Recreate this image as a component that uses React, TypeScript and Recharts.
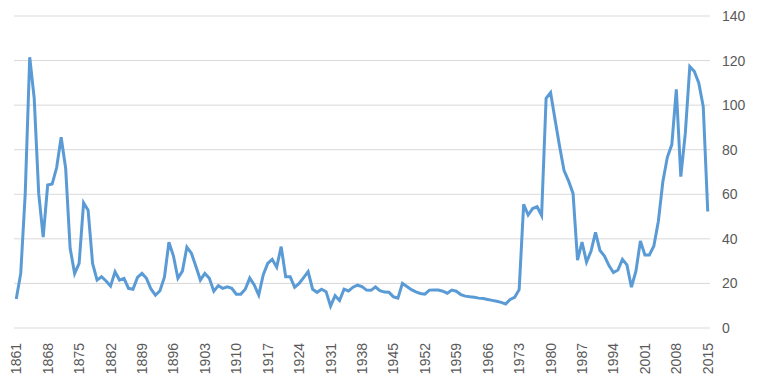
import React from "react";
import { LineChart, Line, XAxis, YAxis, CartesianGrid } from "recharts";

const years: number[] = [
  1861, 1862, 1863, 1864, 1865, 1866, 1867, 1868, 1869, 1870,
  1871, 1872, 1873, 1874, 1875, 1876, 1877, 1878, 1879, 1880,
  1881, 1882, 1883, 1884, 1885, 1886, 1887, 1888, 1889, 1890,
  1891, 1892, 1893, 1894, 1895, 1896, 1897, 1898, 1899, 1900,
  1901, 1902, 1903, 1904, 1905, 1906, 1907, 1908, 1909, 1910,
  1911, 1912, 1913, 1914, 1915, 1916, 1917, 1918, 1919, 1920,
  1921, 1922, 1923, 1924, 1925, 1926, 1927, 1928, 1929, 1930,
  1931, 1932, 1933, 1934, 1935, 1936, 1937, 1938, 1939, 1940,
  1941, 1942, 1943, 1944, 1945, 1946, 1947, 1948, 1949, 1950,
  1951, 1952, 1953, 1954, 1955, 1956, 1957, 1958, 1959, 1960,
  1961, 1962, 1963, 1964, 1965, 1966, 1967, 1968, 1969, 1970,
  1971, 1972, 1973, 1974, 1975, 1976, 1977, 1978, 1979, 1980,
  1981, 1982, 1983, 1984, 1985, 1986, 1987, 1988, 1989, 1990,
  1991, 1992, 1993, 1994, 1995, 1996, 1997, 1998, 1999, 2000,
  2001, 2002, 2003, 2004, 2005, 2006, 2007, 2008, 2009, 2010,
  2011, 2012, 2013, 2014, 2015,
];

const prices: number[] = [
  13.0, 24.5, 60.3, 121.5, 103.0, 60.4, 40.8, 64.2, 64.6, 72.0,
  85.6, 71.7, 35.8, 24.4, 29.0, 56.2, 52.9, 29.0, 21.5, 23.0,
  21.1, 18.8, 25.2, 21.5, 22.3, 17.8, 17.4, 22.7, 24.5, 22.3,
  17.5, 14.7, 16.7, 22.8, 38.5, 32.4, 22.3, 25.5, 36.3, 33.6,
  27.7, 21.5, 24.5, 22.3, 16.5, 19.0, 17.8, 18.5, 17.8, 15.2,
  15.2, 17.4, 22.4, 19.3, 14.8, 23.8, 29.0, 30.8, 27.3, 36.5,
  23.0, 23.0, 18.3, 20.0, 22.6, 25.3, 17.4, 16.0, 17.4, 16.3,
  9.8, 14.5, 12.3, 17.4, 16.6, 18.3, 19.2, 18.6, 17.0, 16.9,
  18.4, 16.8, 16.1, 16.0, 14.0, 13.4, 20.0, 18.6, 17.2, 16.2,
  15.5, 15.2, 17.0, 17.1, 17.0, 16.5, 15.6, 17.0, 16.5, 15.0,
  14.3, 14.0, 13.8, 13.4, 13.2, 12.8, 12.4, 12.0, 11.5, 10.8,
  12.8, 13.8, 17.2, 55.5, 50.7, 53.6, 54.4, 50.5, 103.1, 105.6,
  93.5, 81.5, 70.6, 66.0, 60.4, 30.5, 38.5, 29.6, 34.4, 42.9,
  34.8, 32.3, 28.0, 24.9, 26.0, 30.8, 28.3, 18.3, 25.5, 39.0,
  32.8, 32.8, 36.8, 47.9, 65.6, 76.6, 82.3, 107.1, 67.9, 87.3,
  117.3, 115.2, 110.0, 99.3, 52.3,
];

const yTicks: number[] = [0, 20, 40, 60, 80, 100, 120, 140];

const data = years.map((y, i) => ({ year: String(y), price: prices[i] }));

const FONT = "'Liberation Sans', Arial, sans-serif";
const TEXT = "#595959";

const XTick = (props: any) => {
  const { x, y, payload } = props;
  return (
    <text
      x={x + 5}
      y={y}
      transform={`rotate(-90, ${x + 5}, ${y})`}
      textAnchor="end"
      fill={TEXT}
      fontSize={14}
      fontFamily={FONT}
    >
      {payload.value}
    </text>
  );
};

export default function App() {
  return (
    <div style={{ position: "absolute", left: 0, top: 0, background: "#fff" }}>
      <LineChart
        width={761}
        height={382}
        data={data}
        margin={{ top: 16, right: 0, left: 14, bottom: 0 }}
      >
        <CartesianGrid vertical={false} stroke="#D9D9D9" strokeWidth={1} />
        <XAxis
          dataKey="year"
          interval={6}
          height={54}
          tickLine={false}
          axisLine={false}
          padding={{ left: 2.25, right: 2.25 }}
          tick={<XTick />}
          tickMargin={9}
        />
        <YAxis
          orientation="right"
          domain={[0, 140]}
          ticks={yTicks}
          width={51}
          tickLine={false}
          axisLine={false}
          tickMargin={6}
          tick={{ fill: TEXT, fontSize: 14, fontFamily: FONT }}
          interval={0}
        />
        <Line
          type="linear"
          dataKey="price"
          stroke="#5B9BD5"
          strokeWidth={3}
          dot={false}
          isAnimationActive={false}
        />
      </LineChart>
    </div>
  );
}
